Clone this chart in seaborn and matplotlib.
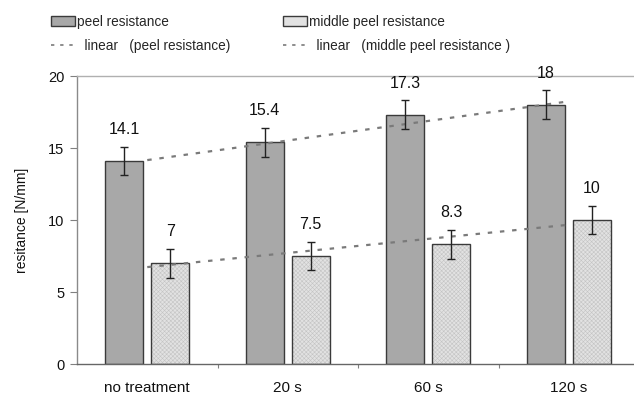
import matplotlib
matplotlib.use("Agg")
import matplotlib.pyplot as plt
import seaborn as sns
import numpy as np
import pandas as pd
from matplotlib.patches import Rectangle, Patch
from matplotlib.lines import Line2D

categories = ["no treatment", "20 s", "60 s", "120 s"]
peel = [14.1, 15.4, 17.3, 18.0]
middle = [7.0, 7.5, 8.3, 10.0]
peel_err = [1.0, 1.0, 1.0, 1.0]
middle_err = [1.0, 1.0, 1.0, 1.0]
series_names = ["peel resistance", "middle peel resistance"]

df = pd.DataFrame({
    "cat": categories * 2,
    "series": [series_names[0]] * 4 + [series_names[1]] * 4,
    "value": peel + middle,
})

sns.set_theme(style="white")
plt.rcParams["font.family"] = ["Liberation Sans", "DejaVu Sans"]
plt.rcParams["hatch.linewidth"] = 0.4

fig = plt.figure(figsize=(6.34, 3.94), dpi=100)
ax = fig.add_axes([77 / 634, 30 / 394, 1 - 77 / 634, (364 - 76) / 394])

sns.barplot(data=df, x="cat", y="value", hue="series", order=categories,
            hue_order=series_names, palette=["#a8a8a8", "#e2e2e2"],
            width=0.652, gap=0.17, errorbar=None, legend=False, ax=ax,
            edgecolor="#3a3a3a", linewidth=1.0)

patches = [p for p in ax.patches if isinstance(p, Rectangle) and p.get_height() > 0]
peel_patches = patches[:4]
mid_patches = patches[4:8]

# fine texture for middle peel bars
for p in mid_patches:
    p.set_hatch("xxxxxxxx")
    p.set_edgecolor("#c4c4c4")
    p.set_linewidth(0)
    r = Rectangle((p.get_x(), p.get_y()), p.get_width(), p.get_height(),
                  fill=False, edgecolor="#3a3a3a", linewidth=1.0, zorder=p.get_zorder() + 0.1)
    ax.add_patch(r)

def centers(ps):
    return [p.get_x() + p.get_width() / 2 for p in ps]

pc = centers(peel_patches)
mc = centers(mid_patches)
ax.errorbar(pc, peel, yerr=peel_err, fmt="none", ecolor="#222222", elinewidth=1.0,
            capsize=3, capthick=1.0, zorder=5)
ax.errorbar(mc, middle, yerr=middle_err, fmt="none", ecolor="#222222", elinewidth=1.0,
            capsize=3, capthick=1.0, zorder=5)

for x, v, e in zip(pc, peel, peel_err):
    ax.annotate(f"{v:g}", (x, v + e), xytext=(0, 7), textcoords="offset points",
                ha="center", va="bottom", fontsize=11.5, color="#111111")
for x, v, e in zip(mc, middle, middle_err):
    ax.annotate(f"{v:g}", (x, v + e), xytext=(0, 7), textcoords="offset points",
                ha="center", va="bottom", fontsize=11.5, color="#111111")

# linear trendlines over category positions
xs = np.arange(len(categories))
for vals in (peel, middle):
    k, b = np.polyfit(xs, vals, 1)
    ax.plot([xs[0], xs[-1]], [b, b + k * xs[-1]], color="#7a7a7a", lw=1.6,
            ls=(0, (2, 3.5)), zorder=4)

ax.set_ylim(0, 20)
ax.set_xlim(-0.5, 3.5 - 5 / 140.5)
ax.set_yticks([0, 5, 10, 15, 20])
ax.set_xlabel("")
ax.set_ylabel("resitance [N/mm]", fontsize=10, color="#111111", labelpad=14)
ax.tick_params(axis="y", labelsize=10.5, length=5, width=0.8, color="#808080",
               left=True, labelcolor="#111111", pad=4)
ax.tick_params(axis="x", which="major", length=0, labelsize=11, labelcolor="#111111", pad=12)
ax.set_xticks([0.5, 1.5, 2.5], minor=True)
ax.tick_params(axis="x", which="minor", length=3, width=0.8, color="#808080", bottom=True)

ax.spines["right"].set_visible(False)
ax.spines["top"].set_color("#b0b0b0")
ax.spines["top"].set_linewidth(1.0)
ax.spines["left"].set_color("#8a8a8a")
ax.spines["bottom"].set_color("#666666")
ax.spines["left"].set_linewidth(1.0)
ax.spines["bottom"].set_linewidth(1.0)

handles = [
    Patch(facecolor="#a8a8a8", edgecolor="#3a3a3a", linewidth=1.0),
    Line2D([0], [0], color="#7a7a7a", lw=1.2, ls=(0, (2, 3.5))),
    Patch(facecolor="#e2e2e2", edgecolor="#3a3a3a", linewidth=1.0),
    Line2D([0], [0], color="#7a7a7a", lw=1.2, ls=(0, (2, 3.5))),
]
labels = ["peel resistance", "  linear   (peel resistance)",
          "middle peel resistance", "  linear   (middle peel resistance )"]
fig.legend(handles, labels, ncol=2, loc="upper left", bbox_to_anchor=(51 / 634, 1 - 15 / 394),
           frameon=False, fontsize=9.8, handlelength=1.75, handletextpad=0.15,
           columnspacing=3.9, labelspacing=0.75, borderaxespad=0, borderpad=0)

fig.savefig("out.png", dpi=100)
